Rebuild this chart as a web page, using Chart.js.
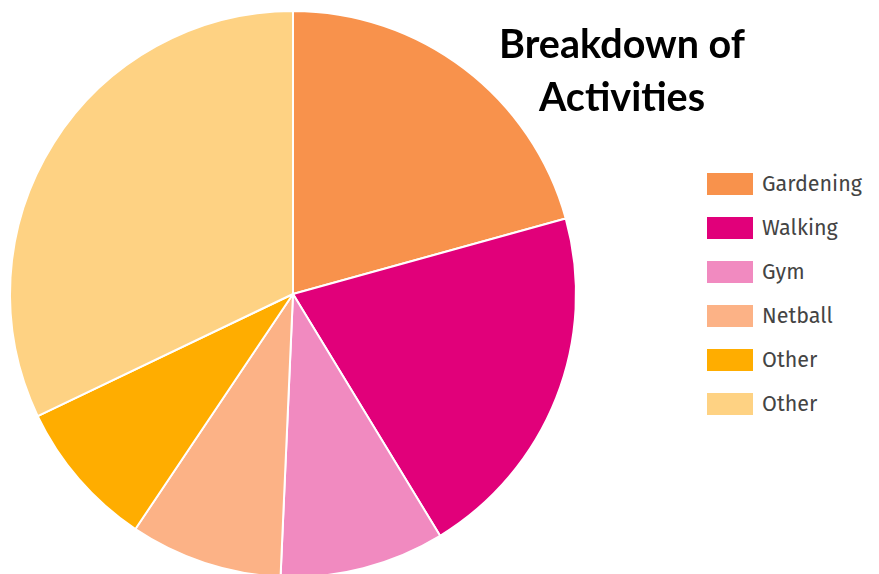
<!DOCTYPE html>
<html>
<head>
<meta charset="utf-8">
<script src="https://cdn.jsdelivr.net/npm/chart.js@4"></script>
<style>
html,body{margin:0;padding:0;background:#fff;overflow:hidden;width:879px;height:574px;}
#wrap{position:absolute;left:0;top:0;width:586px;height:588px;}
#title{position:absolute;left:460px;top:16px;width:324px;text-align:center;font-family:Lato,"Open Sans",sans-serif;font-weight:bold;font-size:39.5px;line-height:53px;color:#000;}
#legend{position:absolute;left:707px;top:173px;font-family:"Fira Sans","Open Sans",sans-serif;font-size:21.5px;color:#444;}
.row{height:44px;display:flex;align-items:flex-start;}
.box{width:46px;height:22px;margin-right:9px;}
.lab{line-height:22px;}
</style>
</head>
<body>
<div id="wrap"><canvas id="c" width="586" height="588"></canvas></div>
<div id="title">Breakdown of<br>Activities</div>
<div id="legend"></div>
<script>
const categories = ["Gardening","Walking","Gym","Netball","Other","Other"];
const values = [20.7, 20.6, 9.4, 8.7, 8.5, 32.1];
const colors = ["#F8924C","#E1007A","#F18AC0","#FCB286","#FFAD00","#FED283"];

const leg = document.getElementById('legend');
categories.forEach((c,i)=>{
  const r=document.createElement('div');r.className='row';
  const b=document.createElement('div');b.className='box';b.style.background=colors[i];
  const t=document.createElement('div');t.className='lab';t.textContent=c;
  r.appendChild(b);r.appendChild(t);leg.appendChild(r);
});

new Chart(document.getElementById('c'),{
  type:'pie',
  data:{labels:categories,datasets:[{data:values,backgroundColor:colors,borderColor:'#fff',borderWidth:2}]},
  options:{
    responsive:false,devicePixelRatio:1,animation:false,
    layout:{padding:{left:9,right:9,top:9,bottom:9}},
    plugins:{legend:{display:false},tooltip:{enabled:false},title:{display:false}}
  }
});
</script>
</body>
</html>
